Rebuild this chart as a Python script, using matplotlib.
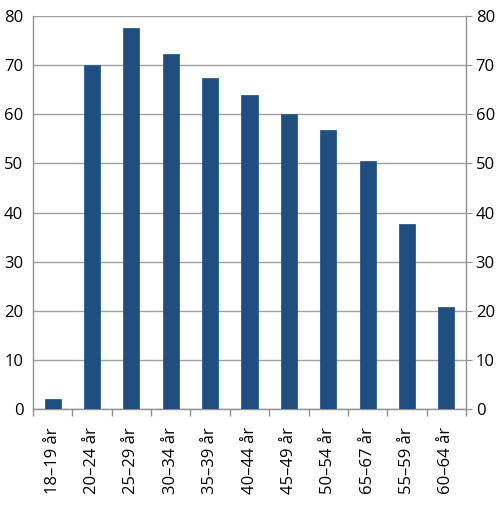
import matplotlib
matplotlib.use('Agg')
import matplotlib.pyplot as plt
import numpy as np

#### Data
kategorier = ['18–19 år', '20–24 år', '25–29 år', '30–34 år', '35–39 år', '40–44 år',
              '45–49 år', '50–54 år', '65–67 år', '55–59 år', '60–64 år']
verdier = [2.0, 70.0, 77.6, 72.3, 67.5, 64.0, 60.1, 56.8, 50.5, 37.7, 20.8]
yticks = [0, 10, 20, 30, 40, 50, 60, 70, 80]

plt.rcParams['font.family'] = ['Open Sans', 'DejaVu Sans']

fig = plt.figure(figsize=(5.0, 5.05), dpi=100)
ax = fig.add_axes([0.066, 0.19, 0.866, 0.778])

x = np.arange(len(kategorier))
ax.bar(x, verdier, width=0.41, color='#1f4e7f', edgecolor='#2a5d92', linewidth=0.6, zorder=3)

ax.set_xlim(-0.5, len(kategorier) - 0.5)
ax.set_ylim(0, 80)
ax.set_yticks(yticks)
ax.yaxis.grid(True, color='#a0a0a0', linewidth=1.0, zorder=0)

# x: labels at centre, tick marks at boundaries
ax.set_xticks(x)
ax.set_xticklabels(kategorier, rotation=90, fontsize=12)
ax.set_xticks(np.arange(-0.5, len(kategorier) + 0.5, 1), minor=True)
ax.tick_params(axis='x', which='major', length=0, pad=13)
ax.tick_params(axis='x', which='minor', length=5, color='#909090', width=1)

ax.tick_params(axis='y', which='both', labelsize=12, left=False, right=True,
               labelleft=True, labelright=True, length=4, color='#909090', pad=3)

for s in ['top']:
    ax.spines[s].set_visible(False)
for s in ['left', 'right', 'bottom']:
    ax.spines[s].set_color('#909090')
    ax.spines[s].set_linewidth(1.0)

fig.savefig('out.png', dpi=100)
